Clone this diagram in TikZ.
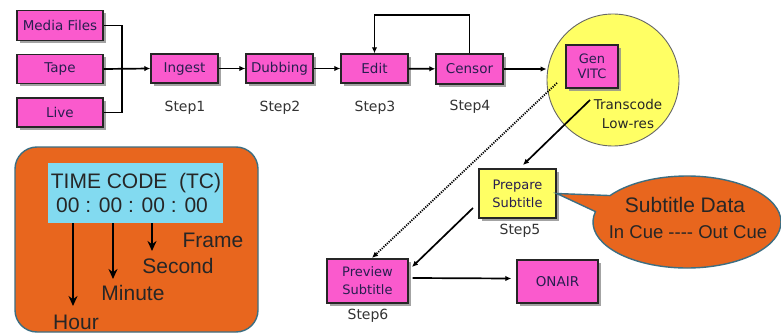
\documentclass[tikz,border=0pt]{standalone}
\usepackage{fontspec}
\setmainfont{DejaVu Sans}
\newfontfamily\arialf{Liberation Sans}
\usetikzlibrary{arrows.meta,shapes.callouts,shadows}
\definecolor{pinkc}{RGB}{250,90,205}
\definecolor{yellc}{RGB}{255,255,100}
\definecolor{orangec}{RGB}{232,102,30}
\definecolor{cyanc}{RGB}{130,218,240}
\definecolor{txtc}{RGB}{40,30,80}
\definecolor{bordc}{RGB}{60,110,130}
\tikzset{
  boxbase/.style={draw=black!85, line width=1.4pt, inner sep=0pt, align=center,
    text=txtc, font=\fontsize{13.5}{15}\selectfont,
    drop shadow={shadow xshift=3pt, shadow yshift=-3pt, fill=black!45, opacity=0.8}},
  pbox/.style={boxbase, fill=pinkc},
  ybox/.style={boxbase, fill=yellc},
  steplbl/.style={font=\fontsize{14}{15}\selectfont, text=black!80},
  conn/.style={line width=1.7pt, -{Latex[length=6pt,width=5.5pt]}},
  plain/.style={line width=1.7pt},
  tcarrow/.style={line width=2.6pt, -{Stealth[length=10pt,width=9pt]}},
  tclbl/.style={font=\arialf\fontsize{21}{23}\selectfont, text=black!85}
}
\begin{document}
\begin{tikzpicture}[x=1pt,y=-1pt]
\useasboundingbox[fill=white] (0,0) rectangle (781,334);

% source boxes
\node[pbox, minimum width=86pt, minimum height=30pt] (media) at (60,25.5) {Media Files};
\node[pbox, minimum width=86pt, minimum height=29pt] (tape) at (60,69) {Tape};
\node[pbox, minimum width=86pt, minimum height=29pt] (live) at (60,112.5) {Live};

% steps
\node[pbox, minimum width=67pt, minimum height=29pt] (ingest) at (184.5,68.5) {Ingest};
\node[pbox, minimum width=67pt, minimum height=29pt] (dub) at (279.5,68.5) {Dubbing};
\node[pbox, minimum width=67pt, minimum height=29pt] (edit) at (374.5,68.5) {Edit};
\node[pbox, minimum width=67pt, minimum height=30pt] (censor) at (469.5,69) {Censor};

\node[steplbl] (s1) at (185,108) {Step1};
\node[steplbl] (s2) at (280,108) {Step2};
\node[steplbl] (s3) at (375,108) {Step3};
\node[steplbl] (s4) at (470,107) {Step4};

% yellow circle
\node[circle, draw=black!60, line width=0.9pt, fill=yellc, minimum size=132pt, inner sep=0pt] (circ) at (613,80) {};
\node[pbox, minimum width=52pt, minimum height=43pt, font=\fontsize{13}{15}\selectfont] (gen) at (592,66.5) {Gen\\VITC};
\node[steplbl, align=center, text=black!85, font=\fontsize{13.5}{19}\selectfont] (trans) at (628,114) {Transcode\\Low-res};

% lower nodes
\node[ybox, minimum width=77pt, minimum height=49pt, font=\fontsize{13}{18}\selectfont] (prep) at (517.5,193.5) {Prepare\\Subtitle};
\node[steplbl] (s5) at (520,231) {Step5};
\node[pbox, minimum width=81pt, minimum height=44pt, font=\fontsize{13}{18}\selectfont] (prev) at (367.5,281) {Preview\\Subtitle};
\node[steplbl] (s6) at (368,316) {Step6};
\node[pbox, minimum width=81pt, minimum height=43pt] (onair) at (557.5,281.5) {ONAIR};

% callout
\node[ellipse callout, draw=bordc, line width=1.4pt, fill=orangec,
  minimum width=188pt, minimum height=92pt, inner sep=0pt,
  callout pointer arc=22,
  callout absolute pointer={(prep.east)}] (callout) at (687,222) {};
\node[tclbl] (sdata) at (685,205) {Subtitle Data};
\node[tclbl, font=\arialf\fontsize{18.5}{20}\selectfont] (cues) at (688,232) {In Cue ---- Out Cue};

% connectors top row
\coordinate (jn) at (122,69);
\draw[plain] (media.east) -| (jn);
\draw[plain] (live.east) -| (jn);
\draw[conn] (tape.east) -- (ingest.west);
\draw[conn] (ingest) -- (dub);
\draw[conn] (dub) -- (edit);
\draw[conn] (edit) -- (censor);
\draw[conn] (censor.east) -- (circ.west |- censor.east);
\draw[conn] (censor.north) -- ++(0,-38) -| (edit.north);

% diagonal connectors
\coordinate (dotstart) at (557,83);
\coordinate (dotend) at (372,258);
\draw[line width=1.8pt, dash pattern=on 1.2pt off 1.2pt, -{Latex[length=6pt,width=5.5pt]}] (dotstart) -- (dotend);
\coordinate (trstart) at (590,100);
\coordinate (trend) at (523,165);
\draw[conn] (trstart) -- (trend);
\coordinate (ppstart) at (473,208);
\coordinate (ppend) at (412,267);
\draw[conn] (ppstart) -- (ppend);
\draw[conn] ([yshift=3pt]prev.east) ++(4,0) -- ([yshift=3pt,xshift=-5pt]onair.west);

% timecode panel
\node[draw=bordc, line width=1.4pt, fill=orangec, rounded corners=22pt,
  minimum width=243pt, minimum height=185pt, inner sep=0pt] (tcpanel) at (136.5,239.5) {};
\node[fill=cyanc, minimum width=175pt, minimum height=60pt, inner sep=0pt] (tcbox) at (135.5,193) {};
\node[tclbl] (tctitle) at (136,183) {TIME CODE~~(TC)};
\node[tclbl] (tcval) at (132,205) {00 : 00 : 00 : 00};

\coordinate (hs) at (73,223);  \coordinate (he) at (73,306);
\coordinate (ms) at (113,223); \coordinate (me) at (113,279);
\coordinate (ss) at (152,223); \coordinate (se) at (152,251);
\draw[tcarrow] (hs) -- (he);
\draw[tcarrow] (ms) -- (me);
\draw[tcarrow] (ss) -- (se);
\node[tclbl] (frame) at (213,240) {Frame};
\node[tclbl] (second) at (178,266) {Second};
\node[tclbl] (minute) at (133,293) {Minute};
\node[tclbl] (hour) at (76,322) {Hour};
\end{tikzpicture}
\end{document}
